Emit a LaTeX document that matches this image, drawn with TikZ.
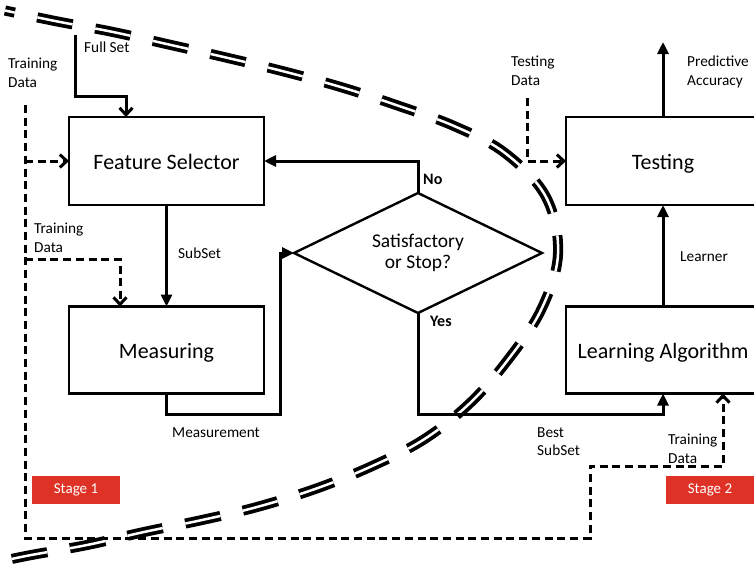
\documentclass[tikz,border=0pt]{standalone}
\usepackage{fontspec}
\setmainfont{Carlito}
\usetikzlibrary{arrows.meta,shapes.geometric}
\definecolor{stagered}{RGB}{222,50,38}
\begin{document}
\begin{tikzpicture}[x=1pt,y=-1pt,
  box/.style={draw, line width=2.5pt, minimum width=195pt, minimum height=88pt, inner sep=0pt, outer sep=0pt,
    font=\fontsize{22}{26}\selectfont, text height=16pt, text depth=0pt},
  dia/.style={diamond, draw, line width=2.4pt, minimum width=248pt, minimum height=120pt, inner sep=0pt, outer sep=0pt,
    aspect=2, align=center, font=\fontsize{19.5}{23}\selectfont},
  lab/.style={anchor=north west, inner sep=0pt, align=left, font=\fontsize{15.3}{18.5}\selectfont},
  blab/.style={anchor=north west, inner sep=0pt, font=\fontsize{16}{19}\selectfont\bfseries},
  stage/.style={fill=stagered, text=white, minimum width=88pt, minimum height=28pt, inner sep=0pt,
    font=\fontsize{15}{18}\selectfont},
  conn/.style={line width=3pt},
  tri/.style={-{Triangle[length=12pt,width=11pt]}},
  barb/.style={-{Straight Barb[length=7pt,width=13pt]}},
  dline/.style={line width=3pt, dash pattern=on 8pt off 4.7pt},
  bigcurve/.style={line width=3.8pt, double=white, double distance=2.5pt, dash pattern=on 36pt off 23pt, dash phase=26pt}
]
\useasboundingbox (0,0) rectangle (754,566);
\clip (0,0) rectangle (754,566);

% big double dashed curve
\draw[bigcurve] plot[smooth, tension=0.6] coordinates {(5,10.5) (55,21) (113,32) (171,45) (228,58) (286,72) (344,88) (399,106) (454,126) (505,153) (546,197) (558,254) (541,310) (507,361) (469,404) (423,440) (370,467) (315,489) (257,507) (202,520) (144,532) (87,545) (26,556) (-20,566)};

% boxes
\node[box] (fs) at (166.5,161) {Feature Selector};
\node[box, minimum height=87pt] (ms) at (166.5,350) {Measuring};
\node[dia] (dia) at (418,253) {\raisebox{-3pt}{\shortstack{Satisfactory\\[2pt]or Stop?}}};
\node[box, minimum width=194pt] (ts) at (663,161) {Testing};
\node[box, minimum width=194pt, minimum height=87pt] (la) at (663,350) {Learning Algorithm};

\node[stage] (st1) at (76,490) {Stage 1};
\node[stage] (st2) at (710,490) {Stage 2};

% labels
\node[lab] (ltd1) at (8,58) {Training\\Data};
\node[lab] (lfull) at (84,42) {Full Set};
\node[lab] (ltd2) at (34,223) {Training\\Data};
\node[lab] (lsub) at (178,248) {SubSet};
\node[lab] (lmeas) at (172,427) {Measurement};
\node[lab] (ltest) at (511,56) {Testing\\Data};
\node[lab] (lpred) at (687,56) {Predictive\\Accuracy};
\node[lab] (llearn) at (680,251) {Learner};
\node[lab] (lbest) at (537,427) {Best\\SubSet};
\node[lab] (ltd3) at (668,434) {Training\\Data};
\node[blab] (lno) at (423,174) {No};
\node[blab] (lyes) at (430,316) {Yes};

% coordinates for free ends
\coordinate (fullin) at (75,35);
\coordinate (tdtop) at (25,105);
\coordinate (testin) at (527,98);
\coordinate (pa) at (663,42);

% solid connectors
\draw[conn, barb] (fullin) -- (75,96) -| ([xshift=57pt]fs.north west);
\draw[conn, tri] (fs.south) -- (ms.north);
\draw[conn, tri] (ms.south) |- (280,414) |- (dia.west);
\draw[conn, tri] (dia.north) |- (fs.east);
\draw[conn, tri] (dia.south) -- (418,414) -| (la.south);
\draw[conn, tri] (la.north) -- (ts.south);
\draw[conn, tri] (ts.north) -- (pa);

% dashed connectors
\draw[dline, barb] (tdtop) -- (25,538) -| (590,466) -| ([xshift=157pt]la.south west);
\draw[dline, barb] (tdtop |- fs.west) -- (fs.west);
\draw[dline, barb] (25,259) -| ([xshift=51pt]ms.north west);
\draw[dline, barb] (testin) |- (ts.west);
\end{tikzpicture}
\end{document}
